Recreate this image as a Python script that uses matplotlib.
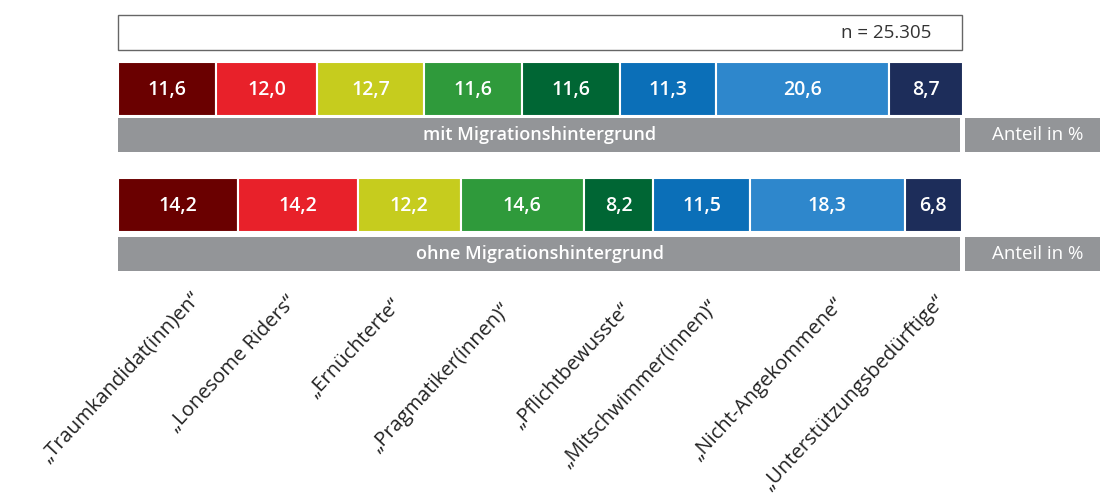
import matplotlib.pyplot as plt
from matplotlib.patches import Rectangle
import numpy as np

plt.rcParams['font.family'] = ['Open Sans', 'DejaVu Sans']

# Data
categories = ['„Traumkandidat(inn)en“', '„Lonesome Riders“', '„Ernüchterte“',
              '„Pragmatiker(innen)“', '„Pflichtbewusste“', '„Mitschwimmer(innen)“',
              '„Nicht-Angekommene“', '„Unterstützungsbedürftige“']
mit_migration = [11.6, 12.0, 12.7, 11.6, 11.6, 11.3, 20.6, 8.7]
ohne_migration = [14.2, 14.2, 12.2, 14.6, 8.2, 11.5, 18.3, 6.8]
group_labels = ['mit Migrationshintergrund', 'ohne Migrationshintergrund']
n_text = 'n = 25.305'
unit_text = 'Anteil in %'

colors = ['#6a0000', '#e8212a', '#c6cc1e', '#2f9a3b', '#006634',
          '#0b6fb8', '#2e87cc', '#1d2d5a']
grey = '#939598'

fig = plt.figure(figsize=(11, 4.97), dpi=100)
ax = fig.add_axes([0, 0, 1, 1])
px = 8.44  # pixels per percent
ax.set_xlim(-118 / px, (1100 - 118) / px)
ax.set_ylim(497, 0)
ax.axis('off')

# n box
ax.add_patch(Rectangle((0, 15), 100, 35, facecolor='white', edgecolor='#666666', lw=1))
ax.text(96.4, 33, n_text, ha='right', va='center', fontsize=13.5, color='#333333')

rows = [(mit_migration, 89, 135), (ohne_migration, 205, 254)]
for (vals, yc, yb), glabel in zip(rows, group_labels):
    vals = np.array(vals)
    lefts = np.concatenate([[0], np.cumsum(vals)[:-1]])
    ax.barh(yc, vals, left=lefts, height=54, color=colors, edgecolor='white', lw=1.5)
    for l, v in zip(lefts, vals):
        ax.text(l + v / 2, yc + 1, f'{v:.1f}'.replace('.', ','), ha='center', va='center',
                fontsize=14, color='white', fontweight='semibold')
    # grey band
    ax.add_patch(Rectangle((0, yb - 17), 99.8, 34, facecolor=grey, edgecolor='none'))
    ax.text(50, yb, glabel, ha='center', va='center', fontsize=13,
            color='white', fontweight='semibold')
    ax.add_patch(Rectangle((100.4, yb - 17), 16.2, 34, facecolor=grey, edgecolor='none'))
    ax.text(109.0, yb, unit_text, ha='center', va='center', fontsize=13.5, color='white')

# category labels (rotated)
label_x = [190, 286, 391, 500, 620, 707, 833, 935]
label_y = [288, 292, 295, 300, 300, 296, 294, 292]
for cat, lx, ly in zip(categories, label_x, label_y):
    ax.text((lx - 118) / px, ly, cat, rotation=47, ha='right', va='top',
            rotation_mode='anchor', fontsize=14.5, color='#222222')

fig.savefig('out.png', dpi=100)
